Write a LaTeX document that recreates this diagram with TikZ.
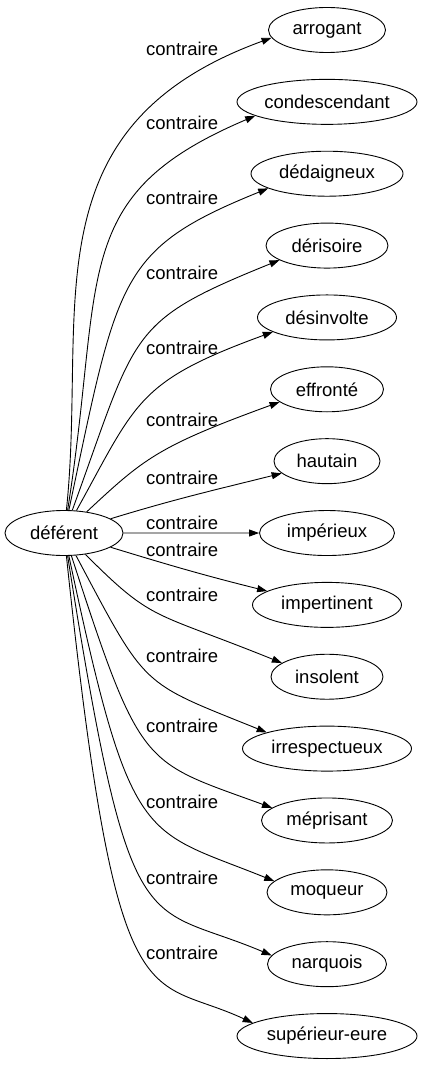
\documentclass[tikz,border=0pt]{standalone}
\usepackage{fontspec}
\setmainfont{Liberation Sans}
\usetikzlibrary{arrows.meta,shapes.geometric}
\tikzset{
  word/.style={draw, ellipse, line width=0.9pt, minimum height=45pt, inner sep=0pt},
  rel/.style={line width=0.9pt, -{Triangle[length=10pt,width=7pt]}}
}
\begin{document}
\begin{tikzpicture}[x=1pt,y=1pt,font=\fontsize{18.5}{22}\selectfont]
      \useasboundingbox (0,0) rectangle (423,-1067);

      \node[word, minimum width=118pt] (deferent) at (64,-533) {déférent};

      % name / text / width / out / in / end anchor / looseness out, in / label y
      \foreach \name/\txt/\wid/\dep/\arr/\tip/\lo/\li/\ly [count=\i from 0] in {
        arrogant/arrogant/117/84/200/188/1.0/1.3/49,
        condescendant/condescendant/180/81/203/191/1.4/1.2/123,
        dedaigneux/dédaigneux/152/78/202/194/1.6/1.1/198,
        derisoire/dérisoire/122/70/202/197/1.5/1.3/273,
        desinvolte/désinvolte/139/61/200/195/1.2/1.4/348,
        effronte/effronté/113/43/200/195/0.9/1.5/420,
        hautain/hautain/106/17/194/195/1/1/478,
        imperieux/impérieux/135/0/180/180/1/1/523,
        impertinent/impertinent/149/-17/166/167/1/1/550,
        insolent/insolent/112/-45/158/163/1.1/1.6/595,
        irrespectueux/irrespectueux/169/-62/158/165/1.5/1.35/656,
        meprisant/méprisant/131/-72/160/167/1.8/1.1/726,
        moqueur/moqueur/120/-78/158/168/2.0/0.95/802,
        narquois/narquois/119/-81/157/171/2.3/0.8/878,
        superieur/supérieur-eure/180/-84/155/170/2.45/0.6/953}{
        \node[word, minimum width=\wid pt] (\name) at (327,{-30-71.86*\i}) {\txt};
        \node[anchor=west, inner sep=0pt] (lab\name) at (146,-\ly) {contraire};
        \draw[rel] (deferent) to[out=\dep, in=\arr, out looseness=\lo, in looseness=\li] (\name.\tip);
      }
    \end{tikzpicture}
\end{document}
